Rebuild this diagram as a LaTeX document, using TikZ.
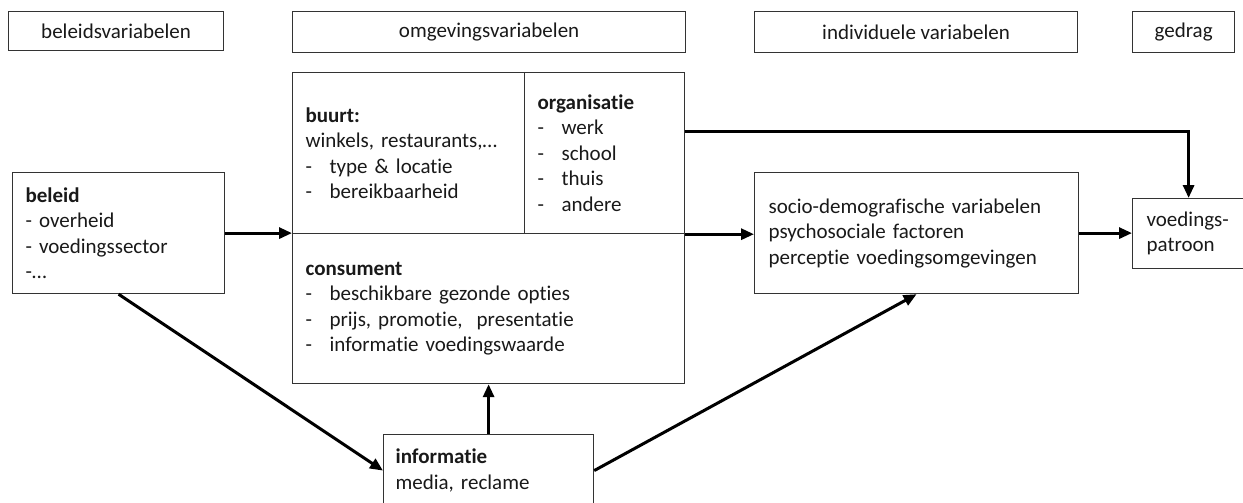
\documentclass[tikz,border=0pt]{standalone}
\usepackage{fontspec}
\setmainfont{Carlito}[Ligatures=NoCommon]
\usetikzlibrary{arrows.meta}
\frenchspacing
\newcommand{\dashitem}[1]{\makebox[24pt][l]{-}#1}
\begin{document}
\begin{tikzpicture}[x=1pt,y=-1pt,
  txt/.style={font=\fontsize{21}{25.5}\selectfont\frenchspacing, text=black!90},
  box/.style={draw=black!80, line width=1.2pt},
  hdr/.style={box, txt, inner sep=0pt, anchor=north west},
  cell/.style={box, txt, anchor=north west, inner xsep=13pt, inner ysep=0pt, align=left},
  arr/.style={line width=3pt, -{Triangle[length=13pt,width=11pt]}}]
\useasboundingbox (0,0) rectangle (1243,503);
% header boxes
\node[hdr, minimum width=215pt, minimum height=39pt] (h1) at (8,11) {beleidsvariabelen};
\node[hdr, minimum width=393pt, minimum height=41pt] (h2) at (292,11) {omgevingsvariabelen};
\node[hdr, minimum width=323pt, minimum height=41pt] (h3) at (754,11) {individuele variabelen};
\node[hdr, minimum width=102pt, minimum height=41pt] (h4) at (1132,11) {gedrag};
% beleid
\node[cell, minimum width=212pt, minimum height=121pt, text width=186pt] (beleid) at (12,172)
  {\textbf{beleid}\\- overheid\\- voedingssector\\-…};
% omgeving cells
\node[cell, minimum width=232pt, minimum height=161pt, text width=206pt] (buurt) at (292,72)
  {\textbf{buurt:}\\winkels, restaurants,…\\\dashitem{type \& locatie}\\\dashitem{bereikbaarheid}};
\node[cell, minimum width=160pt, minimum height=161pt, text width=134pt] (org) at (524,72)
  {\textbf{organisatie}\\\dashitem{werk}\\\dashitem{school}\\\dashitem{thuis}\\\dashitem{andere}};
\node[cell, minimum width=392pt, minimum height=150pt, text width=366pt] (cons) at (292,233)
  {\textbf{consument}\\\dashitem{beschikbare gezonde opties}\\\dashitem{prijs, promotie,\ \ presentatie}\\\dashitem{informatie voedingswaarde}};
% individueel
\node[cell, minimum width=323pt, minimum height=121pt, text width=296pt, inner xsep=14pt] (socio) at (754,172)
  {socio-demografische variabelen\\psychosociale factoren\\perceptie voedingsomgevingen};
% gedrag
\node[cell, minimum width=112pt, minimum height=70pt, text width=84pt, inner xsep=14pt] (voed) at (1132,198)
  {voedings-\\patroon};
% informatie
\node[cell, minimum width=210pt, minimum height=72pt, text width=186pt, inner xsep=12pt] (info) at (383,434)
  {\textbf{informatie}\\media, reclame};
% arrows
\draw[arr] (beleid.east) -- (beleid.east -| buurt.south west);
\draw[arr] (org.south east) -- (org.south east -| socio.west);
\draw[arr] (socio.east) -- (socio.east -| voed.west);
\draw[arr] ([yshift=-59pt]org.north east) -| (voed.north);
\draw[arr] (beleid.south) -- (info.west);
\draw[arr] (info.north) -- (info.north |- cons.south);
\draw[arr] (info.east) -- (socio.south);
\end{tikzpicture}
\end{document}
